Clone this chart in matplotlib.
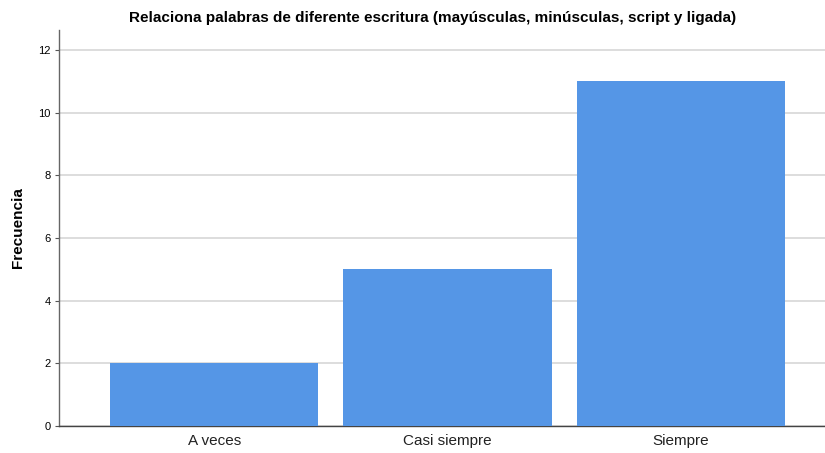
import matplotlib
matplotlib.use("Agg")
import matplotlib.pyplot as plt

categories = ["A veces", "Casi siempre", "Siempre"]
values = [2, 5, 11]
yticks = [0, 2, 4, 6, 8, 10, 12]
title = "Relaciona palabras de diferente escritura (mayúsculas, minúsculas, script y ligada)"
ylabel = "Frecuencia"

plt.rcParams['font.family'] = ['Liberation Sans', 'DejaVu Sans']

W, H = 825, 453
fig = plt.figure(figsize=(W/100, H/100), dpi=100)
left_px, right_px, top_px, bottom_px = 59, 836, 30, 426
ax = fig.add_axes([left_px/W, (H-bottom_px)/H, (right_px-left_px)/W, (bottom_px-top_px)/H])

x = list(range(len(categories)))
ax.bar(x, values, width=0.893, color="#5596E6", zorder=3)
ax.set_xlim(-0.665, 2.665)
ax.set_ylim(0, 12.64)
ax.set_yticks(yticks)
ax.set_yticklabels([str(t) for t in yticks], fontsize=8)
ax.set_xticks(x)
ax.set_xticklabels(categories, fontsize=11)
ax.tick_params(axis='x', length=0, pad=6, colors="#222222")
ax.tick_params(axis='y', length=3, width=0.8, color="#555555", pad=3)
ax.grid(axis='y', color="#d3d3d3", linewidth=1.1, zorder=0)
for s in ["top", "right"]:
    ax.spines[s].set_visible(False)
ax.spines["left"].set_color("#666666")
ax.spines["bottom"].set_color("#444444")
ax.spines["left"].set_linewidth(1.0)
ax.spines["bottom"].set_linewidth(1.0)

fig.text(433/W, 1 - 18/H, title, ha="center", va="center", fontsize=11, fontweight="bold")
fig.text(18/W, 1 - 228/H, ylabel, ha="center", va="center", rotation=90, fontsize=11, fontweight="bold")

fig.savefig("out.png", dpi=100)
